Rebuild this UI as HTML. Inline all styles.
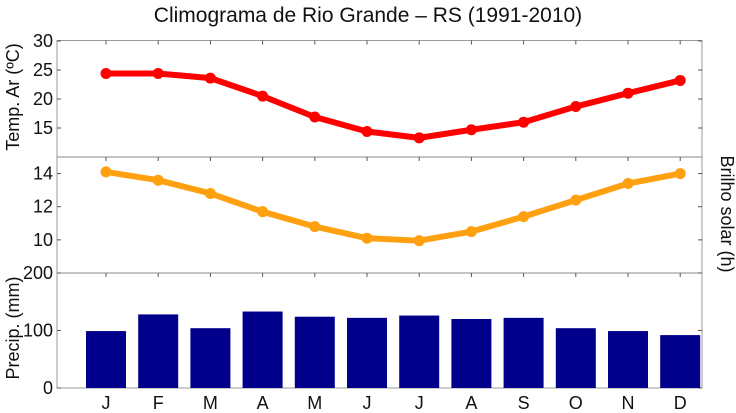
<!DOCTYPE html>
<html><head><meta charset="utf-8">
<style>
html,body{margin:0;padding:0;background:#fff;}
svg{display:block;font-family:"Liberation Sans",sans-serif;}
</style></head>
<body>
<svg id="chart" width="736" height="413" viewBox="0 0 736 413">
<text x="368" y="22" text-anchor="middle" font-size="21" fill="#111">Climograma de Rio Grande – RS (1991-2010)</text>
<g id="g"></g>
</svg>
<script>
const months=['J','F','M','A','M','J','J','A','S','O','N','D'];
const tempVals=[24.4,24.4,23.6,20.5,16.9,14.4,13.3,14.7,16.0,18.7,21.0,23.2];
const sunVals=[14.1,13.6,12.8,11.7,10.8,10.1,9.95,10.5,11.4,12.4,13.4,14.0];
const precipVals=[99,128,104,133,124,122,126,120,122,104,99,92];
const tempTicks=[15,20,25,30];
const sunTicks=[10,12,14];
const precipTicks=[0,100,200];

const NS='http://www.w3.org/2000/svg';
const g=document.getElementById('g');
function mk(t,a,p){const e=document.createElementNS(NS,t);for(const k in a)e.setAttribute(k,a[k]);(p||g).appendChild(e);return e;}
const L=57,R=702;
const x=i=>106+52.2*i;
const yT=v=>157-(v-10)*(116/20);
const yS=v=>273-(v-8)*(116/7);
const yP=v=>388-v*(115/200);

const fr=mk('rect',{x:L,y:40.5,width:R-L,height:347.5,fill:'none',stroke:'#999','stroke-width':1});


[157,273].forEach(yy=>{const l=mk('line',{x1:L,x2:R,y1:yy,y2:yy,stroke:'#888','stroke-width':1});

});

function yticks(ticks,fn,name){ticks.forEach(v=>{const yy=fn(v);
mk('line',{x1:L,x2:L+4,y1:yy,y2:yy,stroke:'#555'});mk('line',{x1:R-4,x2:R,y1:yy,y2:yy,stroke:'#555'});
const t=mk('text',{x:L-4,y:yy+6,'text-anchor':'end','font-size':18,fill:'#111'});t.textContent=v;

});}
yticks(tempTicks,yT,'temp');yticks(sunTicks,yS,'sun');yticks(precipTicks,yP,'precip');

months.forEach((m,i)=>{[40.5,157,273].forEach(yy=>mk('line',{x1:x(i),x2:x(i),y1:yy,y2:yy+4,stroke:'#555'}));
const t=mk('text',{x:x(i),y:409,'text-anchor':'middle','font-size':18,fill:'#111'});t.textContent=m;

});

precipVals.forEach((v,i)=>{const b=mk('rect',{x:x(i)-20,y:yP(v),width:40,height:yP(0)-yP(v),fill:'#00008b'});

});

function series(vals,fn,col,name){
const p=mk('polyline',{points:vals.map((v,i)=>x(i)+','+fn(v)).join(' '),fill:'none',stroke:col,'stroke-width':6,'stroke-linejoin':'round'});


vals.forEach((v,i)=>{const c=mk('circle',{cx:x(i),cy:fn(v),r:5.5,fill:col});

});}
series(tempVals,yT,'#ff0000','temp');
series(sunVals,yS,'#ffa010','sun');

function ylab(txt,xx,yy,rot,name){const t=mk('text',{x:xx,y:yy,'text-anchor':'middle','font-size':18,fill:'#111',transform:`rotate(${rot} ${xx} ${yy})`});t.textContent=txt;

}
ylab('Temp. Ar (ºC)',19,97,-90,'temp-axis-title');
ylab('Precip. (mm)',19,328,-90,'precip-axis-title');
ylab('Brilho solar (h)',721,214,90,'sun-axis-title');
</script>
</body></html>
